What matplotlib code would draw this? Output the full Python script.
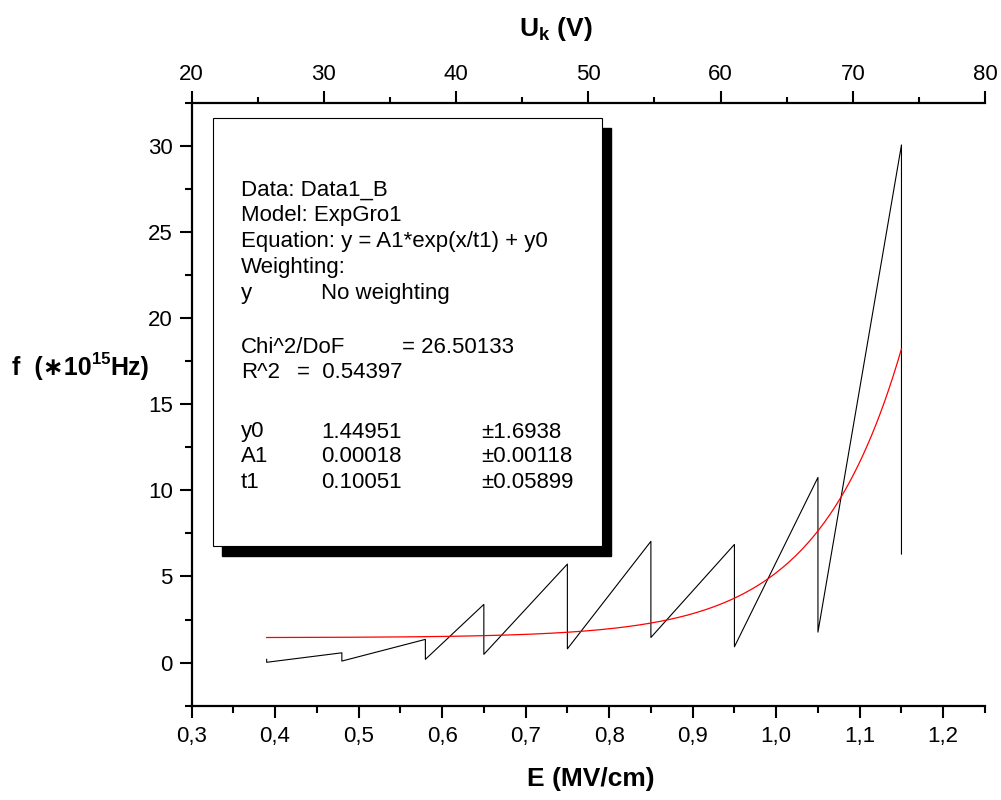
import numpy as np
import matplotlib
matplotlib.use("Agg")
import matplotlib.pyplot as plt
from matplotlib.patches import Rectangle
from matplotlib.ticker import MultipleLocator, FuncFormatter

# --- data ---
E_field = [0.39, 0.39, 0.48, 0.48, 0.58, 0.58, 0.65, 0.65, 0.75, 0.75,
           0.85, 0.85, 0.95, 0.95, 1.05, 1.05, 1.15, 1.15]
freq = [0.19, 0.02, 0.57, 0.09, 1.35, 0.19, 3.38, 0.48, 5.72, 0.80,
        7.04, 1.46, 6.86, 0.92, 10.75, 1.77, 30.05, 6.3]

# ExpGro1 fit, parameters as printed in the box
fit_y0 = 1.44951
fit_A1 = 0.00018
fit_t1 = 0.10051
fit_range = (0.39, 1.15)

param_names = ["y0", "A1", "t1"]
param_values = ["1.44951", "0.00018", "0.10051"]
param_errors = ["1.6938", "0.00118", "0.05899"]
chi2_dof = "26.50133"
r_squared = "0.54397"

# --- style ---
fam = ['Liberation Sans', 'DejaVu Sans']
plt.rcParams['font.family'] = fam
plt.rcParams['mathtext.fontset'] = 'custom'
plt.rcParams['mathtext.rm'] = 'Liberation Sans'
plt.rcParams['mathtext.bf'] = 'Liberation Sans:bold'

W, H = 1001, 800
fig = plt.figure(figsize=(W / 100, H / 100), dpi=100)


def fpos(x, y):
    return x / W, 1 - y / H


ax = fig.add_axes([191.5 / W, 1 - 705.7 / H, 793.5 / W, 603 / H])
ax.plot(E_field, freq, color='black', lw=0.8)

xf = np.linspace(fit_range[0], fit_range[1], 300)
ax.plot(xf, fit_A1 * np.exp(xf / fit_t1) + fit_y0, color='red', lw=0.9)

ax.set_xlim(0.3, 1.25)
ax.set_ylim(-2.5, 32.5)
ax.xaxis.set_major_locator(MultipleLocator(0.1))
ax.xaxis.set_minor_locator(MultipleLocator(0.05))
ax.xaxis.set_major_formatter(FuncFormatter(lambda v, p: f"{v:.1f}".replace('.', ',')))
ax.yaxis.set_major_locator(MultipleLocator(5))
ax.yaxis.set_minor_locator(MultipleLocator(2.5))

for s in ['top', 'right']:
    ax.spines[s].set_visible(False)
for s in ['left', 'bottom']:
    ax.spines[s].set_linewidth(1.6)

ax.tick_params(which='major', direction='out', length=8.5, width=1.5, labelsize=16, pad=6)
ax.tick_params(which='minor', direction='out', length=5, width=1.5)
ax.tick_params(axis='y', which='major', pad=5)

ax2 = ax.twiny()
ax2.set_xlim(20, 80)
ax2.xaxis.set_major_locator(MultipleLocator(10))
ax2.xaxis.set_minor_locator(MultipleLocator(5))
for s in ['bottom', 'left', 'right']:
    ax2.spines[s].set_visible(False)
ax2.spines['top'].set_linewidth(1.6)
ax2.tick_params(which='major', direction='out', length=9, width=1.5, labelsize=16, pad=4)
ax2.tick_params(which='minor', direction='out', length=4.5, width=1.5)

# axis titles
fig.text(*fpos(591, 786), "E (MV/cm)", ha='center', va='baseline',
         fontsize=19, fontweight='bold')
fig.text(*fpos(556, 36), r"U$_{\mathbf{k}}$ (V)", ha='center', va='baseline',
         fontsize=19, fontweight='bold')

# y title built in pieces so the ∗ can fall back to DejaVu
yl1 = fig.text(*fpos(12, 380), "f  (\u221710", ha='left', va='bottom',
               fontsize=18, fontweight='bold', family=fam)
yl2 = ax.annotate("15", xy=(1, 0), xycoords=yl1, xytext=(0, 9), textcoords='offset points',
                  ha='left', va='bottom', fontsize=12, fontweight='bold')
ax.annotate("Hz)", xy=(1, 0), xycoords=yl2, xytext=(0, -9), textcoords='offset points',
            ha='left', va='bottom', fontsize=18, fontweight='bold')

# fit report box with drop shadow
bx0, by0, bx1, by1 = 212.7, 118.3, 601.7, 546
off = 9.5
fig.add_artist(Rectangle(fpos(bx0 + off, by1 + off), (bx1 - bx0) / W, (by1 - by0) / H,
                         transform=fig.transFigure, facecolor='black', edgecolor='black',
                         zorder=5))
fig.add_artist(Rectangle(fpos(bx0, by1), (bx1 - bx0) / W, (by1 - by0) / H,
                         transform=fig.transFigure, facecolor='white', edgecolor='black',
                         lw=0.8, zorder=6))

tx = 240.7
fs = 16
lines = [
    (tx, 190, "Data: Data1_B"),
    (tx, 216, "Model: ExpGro1"),
    (tx, 242, "Equation: y = A1*exp(x/t1) + y0"),
    (tx, 267, "Weighting:"),
    (tx, 293, "y"),
    (321, 293, "No weighting"),
    (tx, 347, "Chi^2/DoF"),
    (401.7, 347, "= " + chi2_dof),
    (tx, 372, "R^2"),
    (296.7, 372, "=  " + r_squared),
]
row_y = [432, 457, 483]
for name, val, err, yy in zip(param_names, param_values, param_errors, row_y):
    lines.append((tx, yy, name))
    lines.append((321, yy, val))
    lines.append((481, yy, "\u00b1" + err))

for x, y, s in lines:
    fig.text(*fpos(x, y), s, ha='left', va='center', fontsize=fs, zorder=7)

fig.savefig("out.png", dpi=100)
